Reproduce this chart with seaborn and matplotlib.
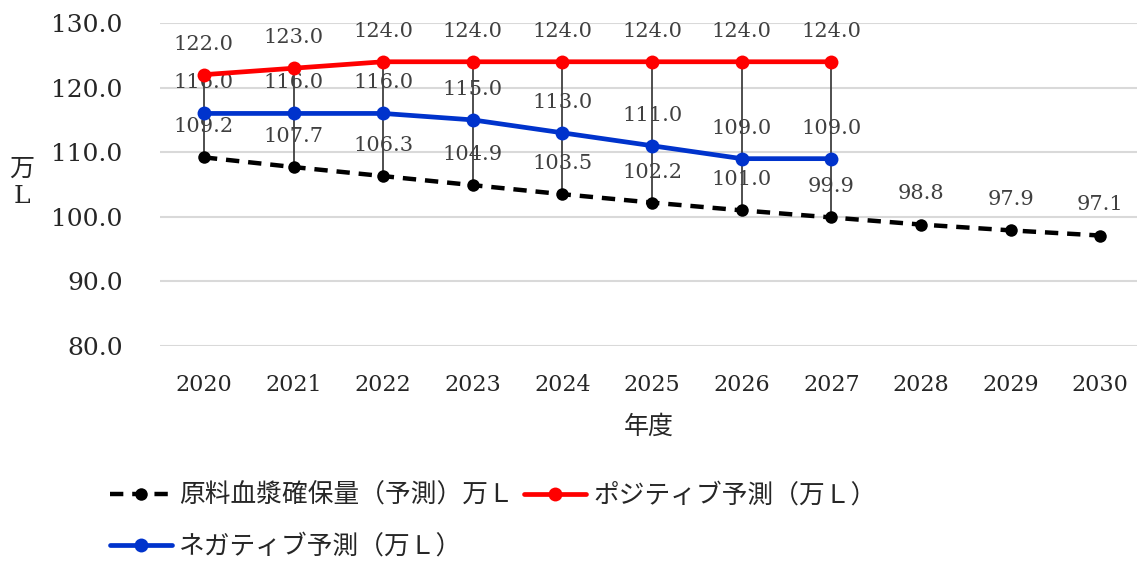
import numpy as np
import pandas as pd
import matplotlib
matplotlib.use("Agg")
import matplotlib.pyplot as plt
import seaborn as sns

# data
years = ["2020", "2021", "2022", "2023", "2024", "2025", "2026", "2027", "2028", "2029", "2030"]
plasma = [109.2, 107.7, 106.3, 104.9, 103.5, 102.2, 101.0, 99.9, 98.8, 97.9, 97.1]
positive = [122.0, 123.0, 124.0, 124.0, 124.0, 124.0, 124.0, 124.0]
negative = [116.0, 116.0, 116.0, 115.0, 113.0, 111.0, 109.0, 109.0]

name_plasma = "原料血漿確保量（予測）万Ｌ"
name_pos = "ポジティブ予測（万Ｌ）"
name_neg = "ネガティブ予測（万Ｌ）"

sns.set_style("white")
plt.rcParams["font.family"] = ["DejaVu Serif", "Noto Sans CJK JP"]

df_plasma = pd.DataFrame({"x": np.arange(len(plasma)), "y": plasma})
df_pos = pd.DataFrame({"x": np.arange(len(positive)), "y": positive})
df_neg = pd.DataFrame({"x": np.arange(len(negative)), "y": negative})

fig = plt.figure(figsize=(11.37, 5.63), dpi=100)
ax = fig.add_axes([160 / 1137, 1 - 346 / 563, 1 - 160 / 1137, (346 - 23) / 563])

# high-low lines between positive and plasma
for i in range(len(positive)):
    ax.vlines(i, plasma[i], positive[i], color="#404040", lw=1.3, zorder=1)

sns.lineplot(data=df_plasma, x="x", y="y", ax=ax, color="black", lw=3.2,
             linestyle=(0, (3, 2)), marker="o", markersize=9, markeredgewidth=0,
             label=name_plasma, zorder=3)
sns.lineplot(data=df_pos, x="x", y="y", ax=ax, color="#ff0000", lw=3.4,
             marker="o", markersize=10, markeredgewidth=0, label=name_pos, zorder=3)
sns.lineplot(data=df_neg, x="x", y="y", ax=ax, color="#0033cc", lw=3.4,
             marker="o", markersize=10, markeredgewidth=0, label=name_neg, zorder=3)

for vals in (plasma, positive, negative):
    for i, v in enumerate(vals):
        ax.annotate(f"{v:.1f}", (i, v), xytext=(0, 22), textcoords="offset points",
                    ha="center", va="center", fontsize=15, color="#404040", zorder=2)

ax.set_xlim(-0.49, 10.41)
ax.set_ylim(80, 130)
ax.set_yticks(np.arange(80, 131, 10))
ax.set_yticklabels([f"{v:.1f}" for v in np.arange(80, 131, 10)])
ax.set_xticks(range(len(years)))
ax.set_xticklabels(years)
ax.tick_params(axis="y", length=0, pad=27, labelsize=18)
ax.tick_params(axis="x", length=0, pad=20, labelsize=16)
ax.grid(axis="y", color="#d9d9d9", lw=1.5)
for s in ax.spines.values():
    s.set_visible(False)

ax.set_xlabel("年度", fontsize=18, labelpad=14)
ax.set_ylabel("")
fig.text(22 / 1137, 1 - 183 / 563, "万\nL", fontsize=18, ha="center", va="center",
         linespacing=1.2)

h, l = ax.get_legend_handles_labels()
ax.legend([h[0], h[2], h[1]], [l[0], l[2], l[1]], ncol=2, loc="upper left",
          bbox_to_anchor=(110 / 1137, 1 - 483 / 563), bbox_transform=fig.transFigure,
          frameon=False, fontsize=18.5, handlelength=2.4, handletextpad=0.3,
          columnspacing=0.4, labelspacing=1.0, borderaxespad=0, borderpad=0)

fig.savefig("out.png", dpi=100)
